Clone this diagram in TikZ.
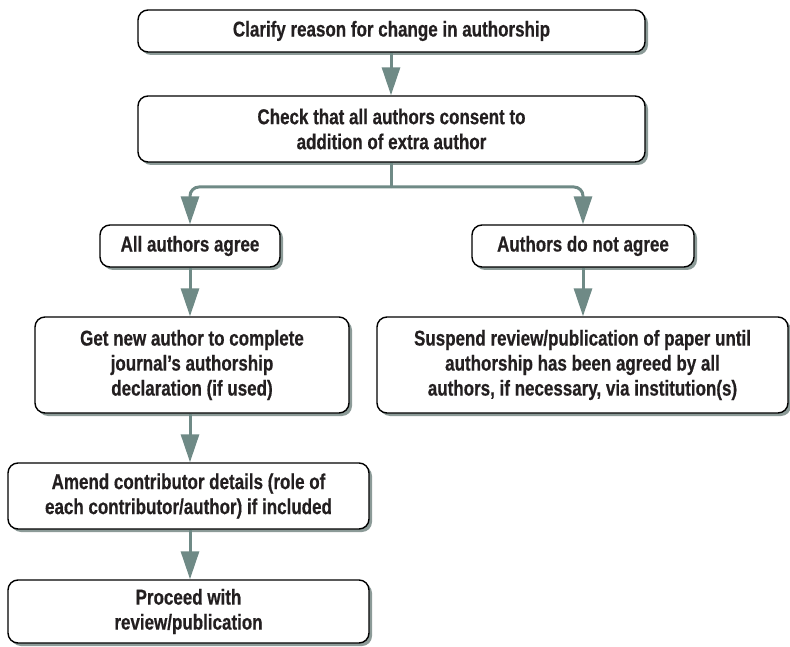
\documentclass[tikz,border=0pt]{standalone}
\usepackage{fontspec}
\setmainfont{Liberation Sans}[FakeStretch=0.79, BoldFeatures={FakeBold=0.5}]
\usetikzlibrary{shadows,arrows.meta}
\definecolor{arrc}{RGB}{111,138,134}
\definecolor{shadc}{RGB}{140,155,152}
\definecolor{txtc}{RGB}{35,31,32}
\begin{document}
\begin{tikzpicture}[x=1pt,y=-1pt,
  box/.style={draw=black, line width=1.4pt, rounded corners=10pt, fill=white,
    align=center, inner sep=0pt, text=txtc,
    font=\fontsize{21.5}{25}\selectfont\bfseries,
    drop shadow={shadow xshift=3pt,shadow yshift=-3pt,fill=shadc,opacity=1}},
  arr/.style={draw=arrc, line width=3pt, -{Triangle[width=18pt,length=28pt]}},
  ln/.style={draw=arrc, line width=3pt}]
\useasboundingbox (0,0) rectangle (790,647);
\node[box, minimum width=507pt, minimum height=42pt] (b1) at (391.5,31) {Clarify reason for change in authorship};
\node[box, minimum width=507pt, minimum height=66pt] (b2) at (391.5,129) {Check that all authors consent to\\addition of extra author};
\node[box, minimum width=180pt, minimum height=42pt] (agree) at (190,246) {All authors agree};
\node[box, minimum width=222pt, minimum height=42pt] (dis) at (583,246) {Authors do not agree};
\node[box, minimum width=314pt, minimum height=96pt] (getnew) at (192,365) {Get new author to complete\\journal’s authorship\\declaration (if used)};
\node[box, minimum width=411pt, minimum height=96pt] (susp) at (582.5,365) {Suspend review/publication of paper until\\authorship has been agreed by all\\authors, if necessary, via institution(s)};
\node[box, minimum width=361pt, minimum height=66pt] (amend) at (188.5,496) {Amend contributor details (role of\\each contributor/author) if included};
\node[box, minimum width=361pt, minimum height=63pt] (proc) at (188.5,611.5) {Proceed with\\review/publication};
\coordinate (j) at (391,187);
\draw[arr] (b1.south -| 391,0) -- (b2.north -| 391,0);
\draw[ln] (b2.south -| j) -- (j);
\draw[arr, rounded corners=9pt] (j) -| (agree.north);
\draw[arr, rounded corners=9pt] (j) -| (dis.north);
\draw[arr] (agree.south) -- (agree.south |- getnew.north);
\draw[arr] (dis.south) -- (dis.south |- susp.north);
\draw[arr] (getnew.south -| 190,0) -- (amend.north -| 190,0);
\draw[arr] (amend.south -| 190,0) -- (proc.north -| 190,0);
\end{tikzpicture}
\end{document}
